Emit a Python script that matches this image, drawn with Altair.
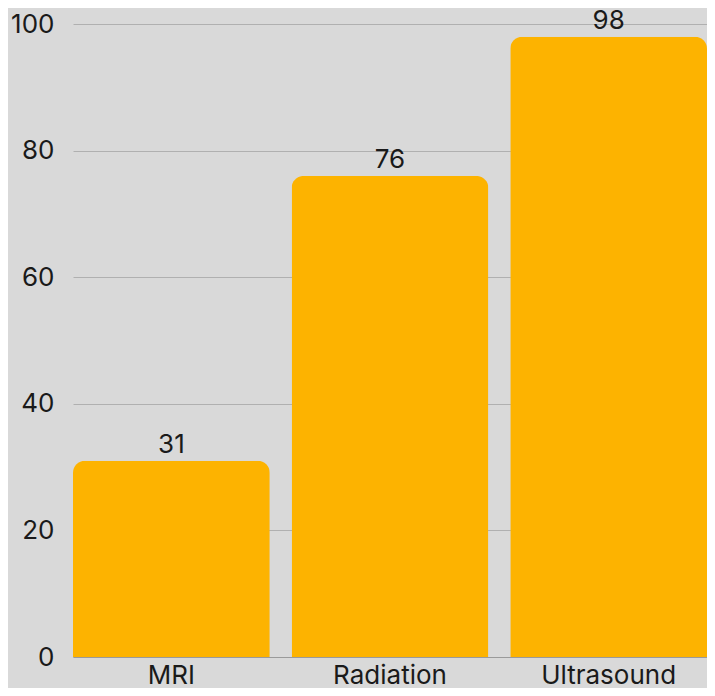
import altair as alt
import pandas as pd

categories = ["MRI", "Radiation", "Ultrasound"]
values = [31, 76, 98]

df = pd.DataFrame({"category": categories, "value": values})

FONT = "Inter"

base = alt.Chart(df).encode(
    x=alt.X("category:N", sort=categories, title=None,
            scale=alt.Scale(paddingInner=0.1, paddingOuter=0),
            axis=alt.Axis(labelAngle=0, ticks=False, labelPadding=5,
                          labelFontSize=26, labelFont=FONT, labelColor="#1a1a1a",
                          domain=True, domainColor="#9a9a9a", domainWidth=1,
                          grid=False)),
    y=alt.Y("value:Q", title=None,
            scale=alt.Scale(domain=[0, 100], nice=False),
            axis=alt.Axis(values=[0, 20, 40, 60, 80, 100], ticks=False, domain=False,
                          labelPadding=19, labelFontSize=26, labelFont=FONT,
                          labelColor="#1a1a1a", gridColor="#b0b0b0", gridWidth=1)),
)

bars = base.mark_bar(color="#FDB300", cornerRadiusTopLeft=12, cornerRadiusTopRight=12)
labels = base.mark_text(baseline="alphabetic", dy=-8, fontSize=26, font=FONT,
                        color="#1a1a1a").encode(text="value:Q")

chart = (bars + labels).properties(
    width=634, height=633,
    background="#d9d9d9",
    padding={"left": 65, "top": 16, "right": 0, "bottom": 31},
    autosize=alt.AutoSizeParams(type="none"),
).configure_view(stroke=None)

chart.save("out.html", embed_options={"renderer": "svg", "actions": False})
